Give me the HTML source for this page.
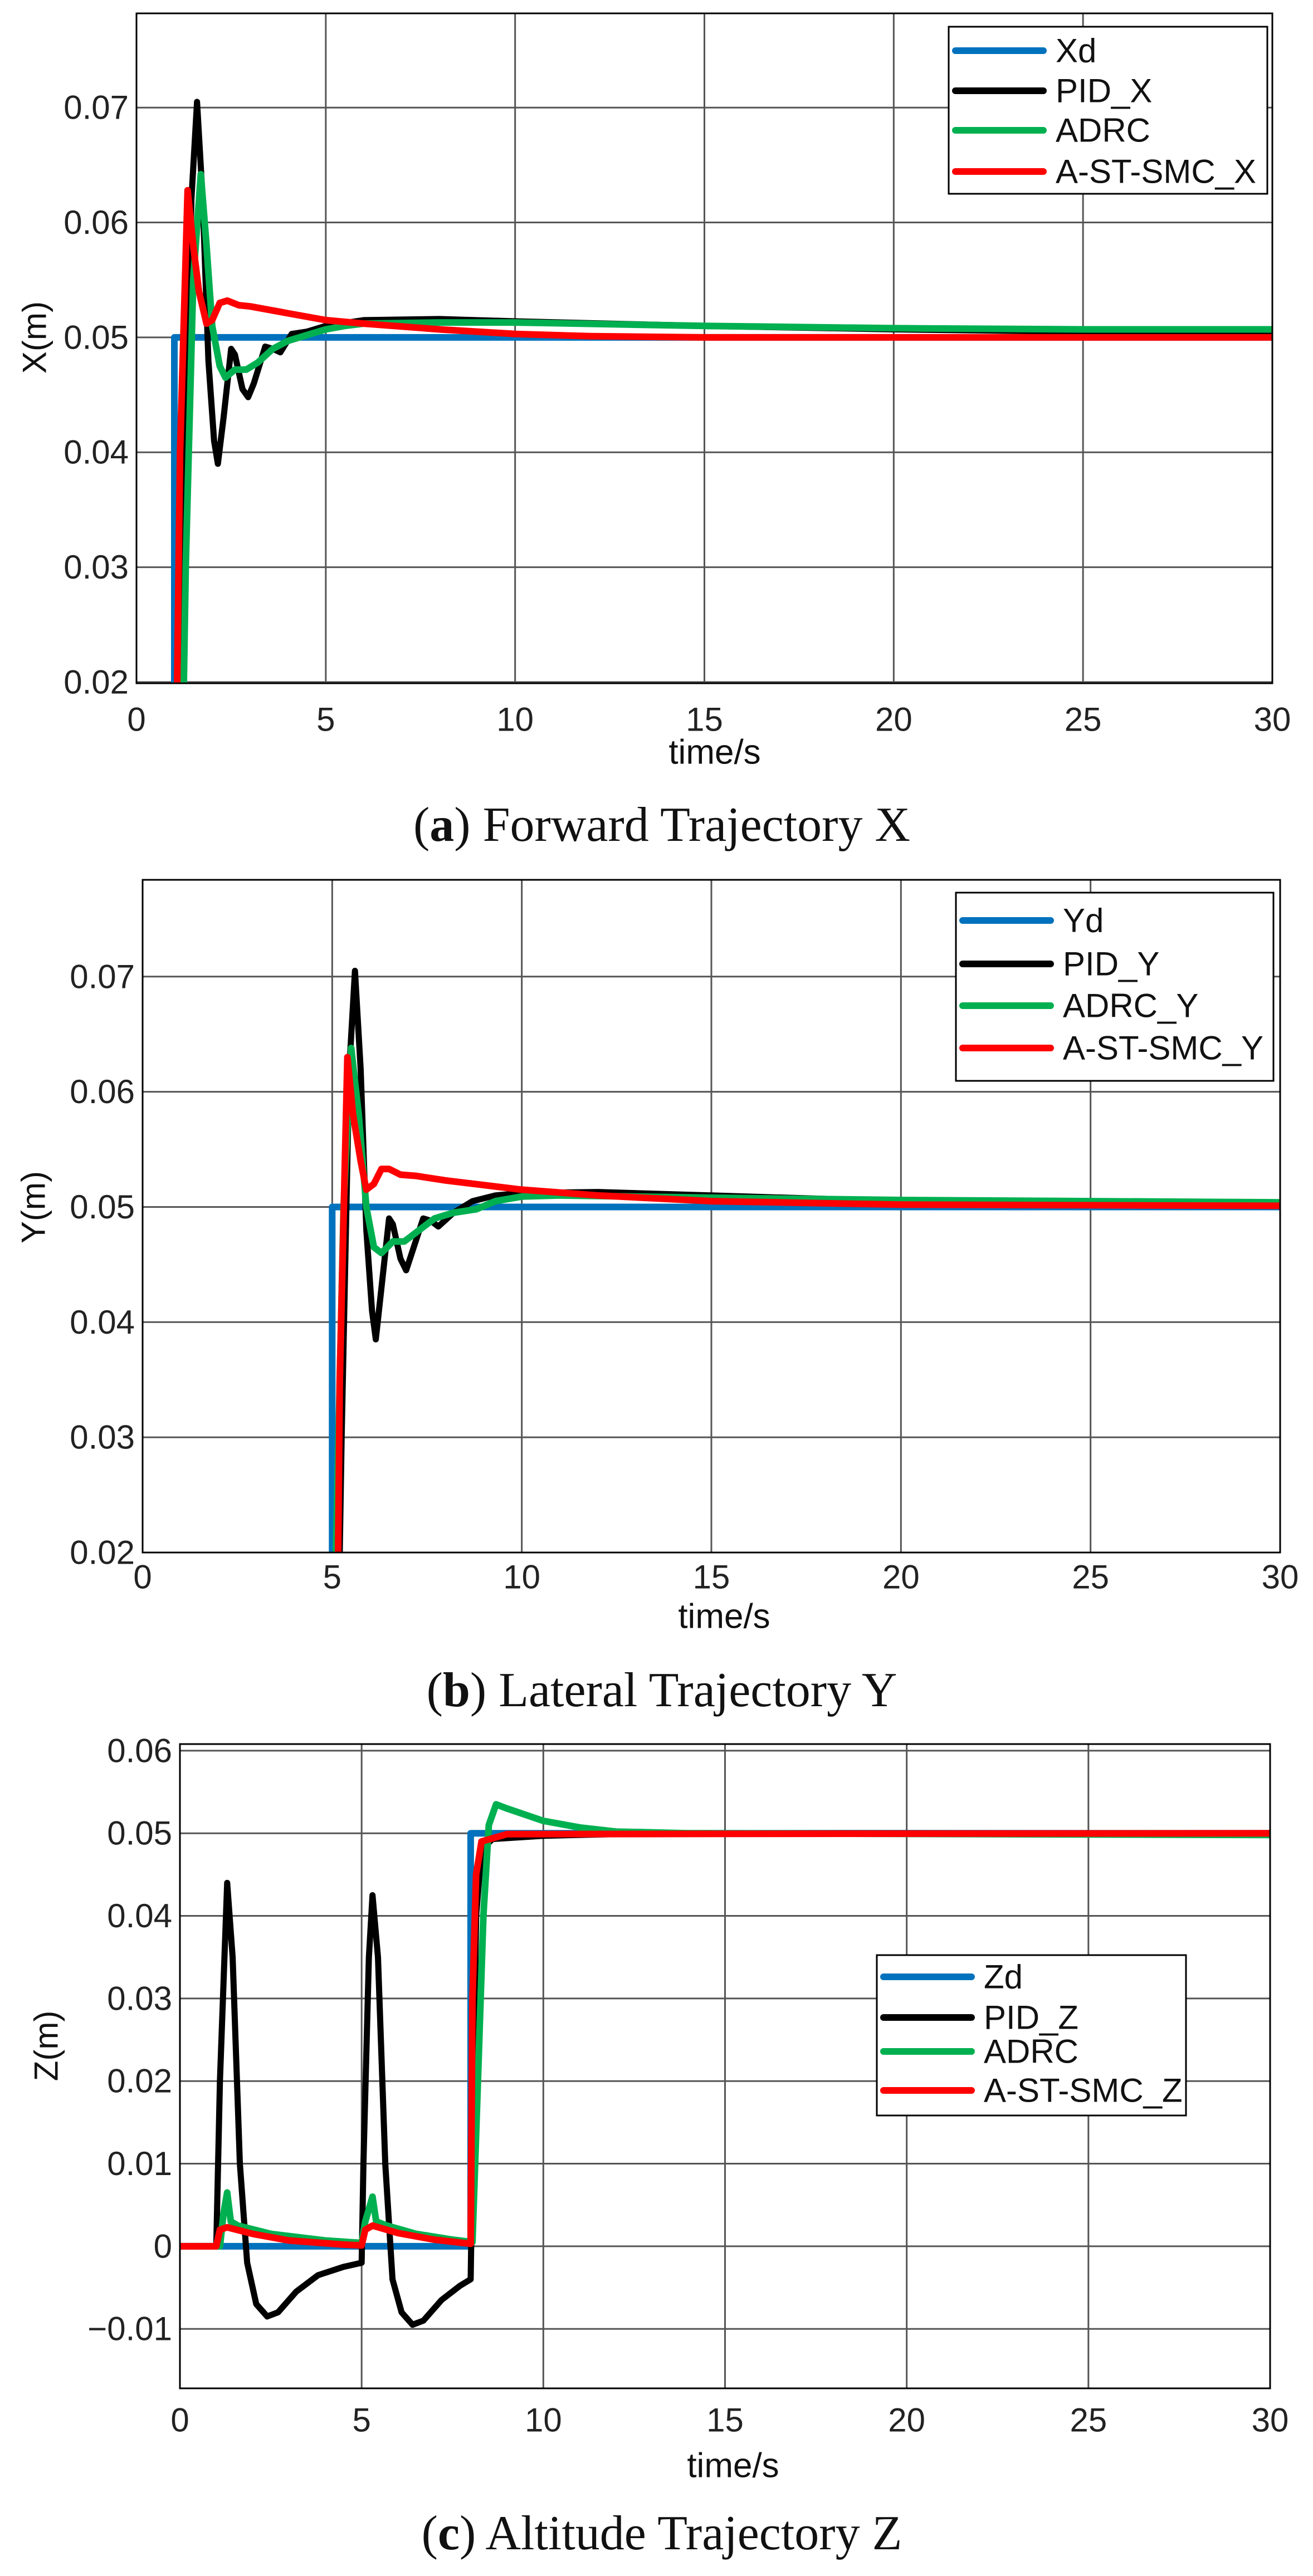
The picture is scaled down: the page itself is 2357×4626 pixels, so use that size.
<!DOCTYPE html>
<html><head><meta charset="utf-8">
<style>
html,body{margin:0;padding:0;background:#fff;}
svg{display:block;}
text{font-family:"Liberation Sans",Arial,sans-serif;}
.cap{font-family:"Liberation Serif",serif;font-size:88px;}
</style></head>
<body>
<svg id="fig" width="2357" height="4626" viewBox="0 0 2357 4626" xmlns="http://www.w3.org/2000/svg">
<rect width="2357" height="4626" fill="#fff"/>
</svg>
<script>
// ---------- Data ----------
const xTicks = [0,5,10,15,20,25,30];
const xTickLabels = ["0","5","10","15","20","25","30"];
const yTicksAB = [0.02,0.03,0.04,0.05,0.06,0.07];
const yTickLabelsAB = ["0.02","0.03","0.04","0.05","0.06","0.07"];
const yTicksC = [-0.01,0,0.01,0.02,0.03,0.04,0.05,0.06];
const yTickLabelsC = ["\u22120.01","0","0.01","0.02","0.03","0.04","0.05","0.06"];

const xdRef = [[0,0],[1,0],[1,0.05],[30,0.05]];
const pidX = [[0,0],[1.1,0],[1.25,0.03],[1.45,0.062],[1.6,0.0705],[1.75,0.062],[1.9,0.048],[2.05,0.041],[2.15,0.039],[2.3,0.043],[2.5,0.049],[2.6,0.0485],[2.8,0.0455],[2.95,0.0448],[3.1,0.046],[3.4,0.0492],[3.6,0.049],[3.8,0.0487],[4.1,0.0503],[4.5,0.0505],[5,0.051],[6,0.0515],[8,0.0516],[10,0.0514],[15,0.051],[20,0.0507],[25,0.0505],[30,0.0505]];
const adrcX = [[0,0],[1.15,0],[1.3,0.03],[1.5,0.055],[1.7,0.0642],[1.85,0.058],[2.0,0.051],[2.2,0.0475],[2.35,0.0465],[2.6,0.0472],[2.9,0.0472],[3.2,0.0478],[3.6,0.049],[4,0.0497],[4.5,0.0502],[5,0.0507],[5.5,0.051],[6,0.0512],[8,0.0513],[10,0.0513],[15,0.051],[20,0.0508],[25,0.0507],[30,0.0507]];
const smcX = [[0,0],[1.0,0],[1.15,0.04],[1.35,0.0628],[1.5,0.058],[1.65,0.054],[1.85,0.0512],[2,0.0515],[2.2,0.053],[2.4,0.0532],[2.7,0.0528],[3,0.0527],[4,0.0521],[5,0.0515],[6,0.0512],[8,0.0507],[10,0.0503],[12,0.0501],[15,0.05],[30,0.05]];

const ydRef = [[0,0],[5,0],[5,0.05],[30,0.05]];
const pidY = [[0,0],[5.1,0],[5.25,0.03],[5.45,0.062],[5.6,0.0705],[5.75,0.062],[5.9,0.048],[6.05,0.041],[6.15,0.0385],[6.3,0.043],[6.5,0.049],[6.6,0.0485],[6.8,0.0455],[6.95,0.0445],[7.1,0.046],[7.4,0.049],[7.6,0.0488],[7.8,0.0483],[8.2,0.0495],[8.7,0.0505],[9.3,0.051],[10,0.0512],[12,0.0513],[15,0.051],[20,0.0505],[25,0.0504],[30,0.0503]];
const adrcY = [[0,0],[5.05,0],[5.1,0.02],[5.3,0.05],[5.5,0.0638],[5.7,0.058],[5.9,0.05],[6.1,0.0465],[6.3,0.046],[6.6,0.047],[6.9,0.047],[7.3,0.048],[7.7,0.049],[8.2,0.0495],[8.8,0.0498],[9.3,0.0505],[10,0.0509],[11,0.051],[15,0.0508],[20,0.0506],[25,0.0505],[30,0.0504]];
const smcY = [[0,0],[5.1,0],[5.2,0.035],[5.4,0.063],[5.55,0.058],[5.75,0.054],[5.9,0.0515],[6.1,0.052],[6.3,0.0533],[6.5,0.0533],[6.8,0.0528],[7.2,0.0527],[8,0.0523],[9,0.0519],[10,0.0515],[12,0.051],[15,0.0505],[20,0.0502],[30,0.0501]];

const zdRef = [[0,0],[8,0],[8,0.05],[30,0.05]];
const pidZ = [[0,0],[1,0],[1.1,0.02],[1.3,0.044],[1.45,0.035],[1.65,0.01],[1.85,-0.002],[2.1,-0.007],[2.4,-0.0085],[2.7,-0.008],[3.2,-0.0055],[3.8,-0.0035],[4.5,-0.0025],[5,-0.002],[5.05,0.01],[5.2,0.035],[5.3,0.0425],[5.45,0.035],[5.65,0.01],[5.85,-0.004],[6.1,-0.008],[6.4,-0.0095],[6.7,-0.009],[7.2,-0.0065],[7.7,-0.0048],[8,-0.004],[8.05,0.01],[8.15,0.04],[8.3,0.048],[8.6,0.0493],[10,0.0497],[13,0.05],[30,0.05]];
const adrcZ = [[0,0],[1.1,0],[1.2,0.004],[1.3,0.0065],[1.4,0.003],[1.6,0.0025],[2.5,0.0015],[4,0.0007],[5,0.0004],[5.1,0.003],[5.3,0.006],[5.4,0.003],[5.7,0.0025],[6.5,0.0015],[7.5,0.0008],[8.05,0.0005],[8.2,0.02],[8.35,0.04],[8.5,0.051],[8.7,0.0535],[9,0.053],[10,0.0515],[11,0.0507],[12,0.0502],[14,0.05],[30,0.0498]];
const smcZ = [[0,0],[1,0],[1.1,0.002],[1.3,0.0023],[2,0.0015],[3,0.0007],[4.5,0.0002],[5,0.0001],[5.1,0.002],[5.3,0.0025],[6,0.0016],[7,0.0008],[8,0.0003],[8.05,0.03],[8.15,0.045],[8.3,0.049],[9,0.0499],[30,0.05]];

const NS = "http://www.w3.org/2000/svg";
const svg = document.getElementById('fig');
function mk(tag, attrs, parent){
  const e = document.createElementNS(NS, tag);
  for (const k in attrs) e.setAttribute(k, attrs[k]);
  (parent||svg).appendChild(e);
  return e;
}
const COLORS = ["#0072BD","#000000","#00B050","#FF0000"];

function drawPlot(cfg){
  const g = mk('g', {});
  
  
  const sx = t => cfg.L + (t - 0) / 30 * (cfg.R - cfg.L);
  const sy = v => cfg.B - (v - cfg.ymin) / (cfg.ymax - cfg.ymin) * (cfg.B - cfg.T);
  const clipId = cfg.name + '-clip';
  const defs = mk('defs', {}, g);
  const cp = mk('clipPath', {id: clipId}, defs);
  mk('rect', {x: cfg.L, y: cfg.T, width: cfg.R - cfg.L, height: cfg.B - cfg.T}, cp);
  xTicks.forEach((t, i) => {
    const l = mk('line', {x1: sx(t), x2: sx(t), y1: cfg.T, y2: cfg.B, stroke: '#555', 'stroke-width': 3}, g);
    
    
    const tx = mk('text', {x: sx(t), y: cfg.xTickY, 'font-size': 60, 'text-anchor': 'middle', 'dominant-baseline': 'central', fill: '#222'}, g);
    tx.textContent = xTickLabels[i];
    
    
  });
  cfg.yTicks.forEach((v, i) => {
    const l = mk('line', {x1: cfg.L, x2: cfg.R, y1: sy(v), y2: sy(v), stroke: '#555', 'stroke-width': 3}, g);
    
    
    const tx = mk('text', {x: cfg.L - 14, y: sy(v), 'font-size': 60, 'text-anchor': 'end', 'dominant-baseline': 'central', fill: '#222'}, g);
    tx.textContent = cfg.yTickLabels[i];
    
    
  });
  const sg = mk('g', {'clip-path': 'url(#' + clipId + ')'}, g);
  cfg.series.forEach((s, i) => {
    const d = s.data.map((p, j) => (j ? 'L' : 'M') + sx(p[0]).toFixed(1) + ',' + sy(p[1]).toFixed(1)).join(' ');
    const p = mk('path', {d: d, fill: 'none', stroke: COLORS[i], 'stroke-width': i === 1 ? 11 : 12, 'stroke-linejoin': 'round', 'stroke-linecap': 'round'}, sg);
    
    
  });
  const fr = mk('rect', {x: cfg.L, y: cfg.T, width: cfg.R - cfg.L, height: cfg.B - cfg.T, fill: 'none', stroke: '#000', 'stroke-width': 3}, g);
  
  
  const xl = mk('text', {x: cfg.xlabX, y: cfg.xlabY, 'font-size': 62, 'text-anchor': 'middle', 'dominant-baseline': 'central', fill: '#111'}, g);
  xl.textContent = 'time/s';
  
  
  const yl = mk('text', {x: 0, y: 0, 'font-size': 60, 'text-anchor': 'middle', 'dominant-baseline': 'central', fill: '#111', transform: 'translate(' + cfg.ylabX + ',' + cfg.ylabY + ') rotate(-90)'}, g);
  yl.textContent = cfg.ylab;
  
  
  const lg = mk('g', {}, g);
  
  
  mk('rect', {x: cfg.lg[0], y: cfg.lg[1], width: cfg.lg[2] - cfg.lg[0], height: cfg.lg[3] - cfg.lg[1], fill: '#fff', stroke: '#000', 'stroke-width': 3}, lg);
  cfg.series.forEach((s, i) => {
    const yy = cfg.lgY[i];
    const ln = mk('line', {x1: cfg.lg[0] + 12, x2: cfg.lg[0] + 170, y1: yy, y2: yy, stroke: COLORS[i], 'stroke-width': 12, 'stroke-linecap': 'round'}, lg);
    
    
    const t = mk('text', {x: cfg.lg[0] + 192, y: yy, 'font-size': 60, 'dominant-baseline': 'central', fill: '#111'}, lg);
    t.textContent = s.label;
    
    
  });
  const cap = mk('text', {x: 1188, y: cfg.capY, 'text-anchor': 'middle', class: 'cap', fill: '#111'}, g);
  cap.innerHTML = '(<tspan font-weight="bold">' + cfg.capLetter + '</tspan>) ' + cfg.capText;
  
  
}

drawPlot({name:'plot-x', L:245, R:2284, T:24, B:1227, ymin:0.0199, ymax:0.0782,
  yTicks:yTicksAB, yTickLabels:yTickLabelsAB, xTickY:1292, xlabX:1283, xlabY:1351, ylab:'X(m)', ylabX:62, ylabY:606,
  lg:[1703,48,2275,348], lgY:[91,163,234,308],
  series:[{key:'xd',label:'Xd',data:xdRef},{key:'pid-x',label:'PID_X',data:pidX},{key:'adrc-x',label:'ADRC',data:adrcX},{key:'smc-x',label:'A-ST-SMC_X',data:smcX}],
  capY:1510, capLetter:'a', capText:'Forward Trajectory X'});

drawPlot({name:'plot-y', L:256, R:2298, T:1580, B:2788, ymin:0.02, ymax:0.0784,
  yTicks:yTicksAB, yTickLabels:yTickLabelsAB, xTickY:2832, xlabX:1300, xlabY:2903, ylab:'Y(m)', ylabX:60, ylabY:2168,
  lg:[1716,1603,2286,1941], lgY:[1653,1731,1806,1882],
  series:[{key:'yd',label:'Yd',data:ydRef},{key:'pid-y',label:'PID_Y',data:pidY},{key:'adrc-y',label:'ADRC_Y',data:adrcY},{key:'smc-y',label:'A-ST-SMC_Y',data:smcY}],
  capY:3064, capLetter:'b', capText:'Lateral Trajectory Y'});

drawPlot({name:'plot-z', L:323, R:2280, T:3132, B:4289, ymin:-0.0172, ymax:0.0608,
  yTicks:yTicksC, yTickLabels:yTickLabelsC, xTickY:4346, xlabX:1316, xlabY:4428, ylab:'Z(m)', ylabX:83, ylabY:3674,
  lg:[1574,3511,2129,3799], lgY:[3550,3623,3684,3754],
  series:[{key:'zd',label:'Zd',data:zdRef},{key:'pid-z',label:'PID_Z',data:pidZ},{key:'adrc-z',label:'ADRC',data:adrcZ},{key:'smc-z',label:'A-ST-SMC_Z',data:smcZ}],
  capY:4578, capLetter:'c', capText:'Altitude Trajectory Z'});
</script>
</body></html>
